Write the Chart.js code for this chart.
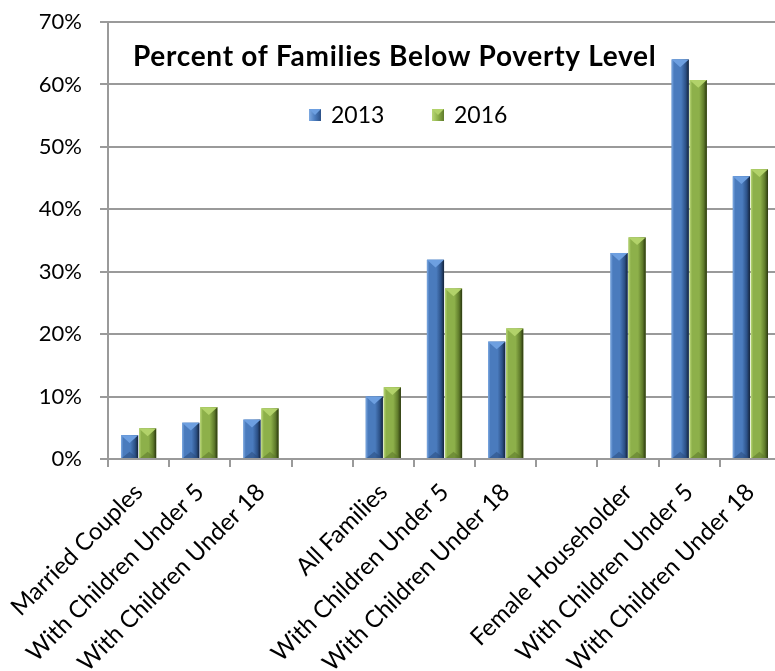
<!DOCTYPE html>
<html>
<head>
<meta charset="utf-8">
<script src="https://cdn.jsdelivr.net/npm/chart.js@4/dist/chart.umd.min.js"></script>
<style>
  html, body { margin: 0; padding: 0; background: #ffffff; overflow: hidden; }
  #wrap { width: 800px; height: 671px; position: relative; }
</style>
</head>
<body>
<div id="wrap"><canvas id="c" width="800" height="671"></canvas></div>
<script>
const categories = [
  'Married Couples', 'With Children Under 5', 'With Children Under 18', '',
  'All Families', 'With Children Under 5', 'With Children Under 18', '',
  'Female Householder', 'With Children Under 5', 'With Children Under 18'
];
const series2013 = [3.8, 5.8, 6.3, null, 10.0, 31.9, 18.8, null, 33.0, 64.0, 45.3];
const series2016 = [4.9, 8.3, 8.1, null, 11.5, 27.3, 20.9, null, 35.5, 60.7, 46.4];
const seriesNames = ['2013', '2016'];
const yTickLabels = ['0%', '10%', '20%', '30%', '40%', '50%', '60%', '70%'];
const chartTitle = 'Percent of Families Below Poverty Level';

const palettes = [
  { base: '#4a7bbd', light: '#7eaae2', dark: '#2c5187', darkest: '#14233a', top: '#6d9fe0', bottom: '#2a4c7e' },
  { base: '#8db04a', light: '#b9d777', dark: '#5f7b2b', darkest: '#2b3710', top: '#b2d26a', bottom: '#5b772a' }
];

function paintBevel(ctx, L, R, T, B, p) {
  const w = R - L;
  if (w <= 0 || B - T <= 0) return;
  const g = ctx.createLinearGradient(L, 0, R, 0);
  g.addColorStop(0, p.light);
  g.addColorStop(0.14, p.base);
  g.addColorStop(0.55, p.base);
  g.addColorStop(0.82, p.dark);
  g.addColorStop(1, p.darkest);
  ctx.fillStyle = g;
  ctx.fillRect(L, T, w, B - T);
  const h = Math.min(w * 0.45, (B - T) / 2);
  ctx.beginPath();
  ctx.moveTo(L, T); ctx.lineTo(R, T); ctx.lineTo(L + w / 2, T + h); ctx.closePath();
  ctx.fillStyle = p.top; ctx.fill();
  ctx.beginPath();
  ctx.moveTo(L + 1, B); ctx.lineTo(R - 1, B); ctx.lineTo(L + w / 2, B - h * 0.8); ctx.closePath();
  ctx.globalAlpha = 0.55; ctx.fillStyle = p.bottom; ctx.fill(); ctx.globalAlpha = 1;
}

const bevelPlugin = {
  id: 'bevel',
  afterDatasetsDraw(chart) {
    const ctx = chart.ctx;
    const area = chart.chartArea;
    ctx.save();
    ctx.beginPath(); ctx.rect(area.left, area.top, area.right - area.left, area.bottom - area.top); ctx.clip();
    chart.data.datasets.forEach((ds, di) => {
      const meta = chart.getDatasetMeta(di);
      meta.data.forEach((el, i) => {
        if (ds.data[i] == null) return;
        const pr = el.getProps(['x', 'y', 'base', 'width'], true);
        paintBevel(ctx, pr.x - pr.width / 2, pr.x + pr.width / 2, pr.y, pr.base, palettes[di]);
      });
    });
    ctx.restore();
  }
};

const overlayPlugin = {
  id: 'overlay',
  afterDraw(chart) {
    const ctx = chart.ctx;
    ctx.save();
    ctx.fillStyle = '#000000';
    ctx.font = 'bold 28px Lato';
    try { ctx.letterSpacing = '0.7px'; } catch (e) {}
    ctx.textAlign = 'left';
    ctx.textBaseline = 'alphabetic';
    ctx.fillText(chartTitle, 133, 66);
    try { ctx.letterSpacing = '0px'; } catch (e) {}
    // legend
    ctx.font = '23px Lato';
    ctx.textBaseline = 'middle';
    const items = [{ x: 309, tx: 331 }, { x: 432, tx: 454 }];
    items.forEach((it, i) => {
      const p = palettes[i];
      const s = 12, y0 = 109;
      const g = ctx.createLinearGradient(it.x, 0, it.x + s, 0);
      g.addColorStop(0, p.light); g.addColorStop(0.5, p.base); g.addColorStop(1, p.dark);
      ctx.fillStyle = g; ctx.fillRect(it.x, y0, s, s);
      ctx.beginPath(); ctx.moveTo(it.x, y0); ctx.lineTo(it.x + s, y0); ctx.lineTo(it.x + s / 2, y0 + s / 2); ctx.closePath();
      ctx.fillStyle = p.top; ctx.fill();
      ctx.fillStyle = '#000000';
      ctx.fillText(seriesNames[i], it.tx, 116);
    });
    ctx.restore();
  }
};

new Chart(document.getElementById('c'), {
  type: 'bar',
  data: {
    labels: categories,
    datasets: [
      { label: seriesNames[0], data: series2013, backgroundColor: palettes[0].base, borderWidth: 0 },
      { label: seriesNames[1], data: series2016, backgroundColor: palettes[1].base, borderWidth: 0 }
    ]
  },
  options: {
    responsive: false,
    animation: false,
    devicePixelRatio: 1,
    categoryPercentage: 0.59,
    barPercentage: 0.95,
    layout: { padding: { left: 0, right: 19, top: 22, bottom: 0 } },
    plugins: { legend: { display: false }, title: { display: false }, tooltip: { enabled: false } },
    scales: {
      x: {
        offset: true,
        grid: { display: true, drawOnChartArea: false, drawTicks: true, tickLength: 8, offset: true, color: '#9a9a9a', lineWidth: 2 },
        border: { display: true, color: '#9a9a9a', width: 2 },
        ticks: { autoSkip: false, maxRotation: 45, minRotation: 45, color: '#000000', font: { family: 'Lato', size: 24 }, padding: 11 },
        afterFit(scale) { scale.height = 212; scale.paddingLeft = 0; scale.paddingRight = 0; }
      },
      y: {
        min: 0, max: 70,
        ticks: { stepSize: 10, color: '#000000', font: { family: 'Lato', size: 22 }, padding: 18,
          callback: (v) => yTickLabels[Math.round(v / 10)] },
        grid: { color: '#9a9a9a', lineWidth: 2, tickLength: 8, drawTicks: true },
        border: { display: true, color: '#9a9a9a', width: 2 },
        afterFit(scale) { scale.width = 108; scale.paddingTop = 0; scale.paddingBottom = 0; }
      }
    }
  },
  plugins: [bevelPlugin, overlayPlugin]
});
</script>
</body>
</html>
